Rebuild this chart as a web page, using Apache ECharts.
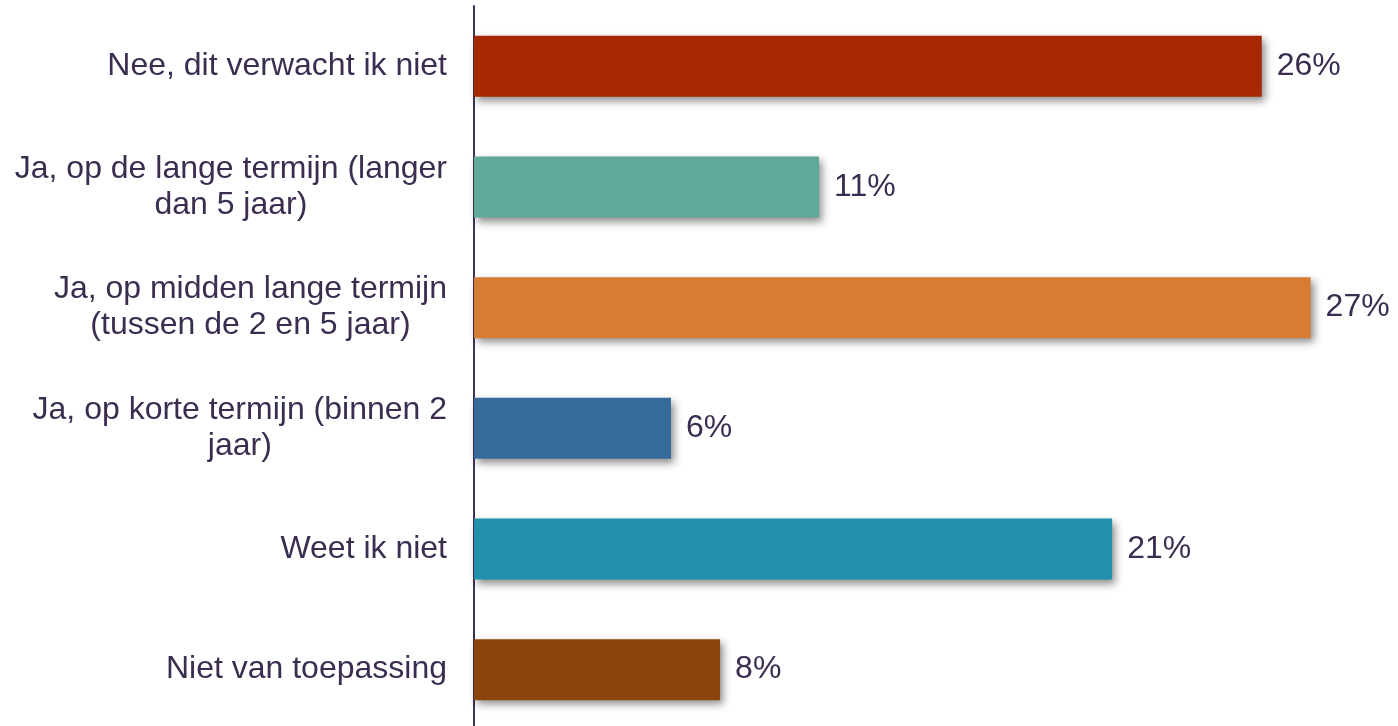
<!DOCTYPE html>
<html>
<head>
<meta charset="utf-8">
<script src="https://cdn.jsdelivr.net/npm/echarts@6/dist/echarts.min.js"></script>
<style>
  html, body { margin: 0; padding: 0; background: #fff; }
  #chart { width: 1398px; height: 726px; }
</style>
</head>
<body>
<div id="chart"></div>
<script>
// antwoorden, van boven naar beneden
const categories = [
  'Nee, dit verwacht ik niet',
  'Ja, op de lange termijn (langer\ndan 5 jaar)',
  'Ja, op midden lange termijn\n(tussen de 2 en 5 jaar)',
  'Ja, op korte termijn (binnen 2\njaar)',
  'Weet ik niet',
  'Niet van toepassing'
];
const values = [25.8, 11.3, 27.4, 6.45, 20.9, 8.06];
const barColors = ['#a52800', '#60a899', '#d77c35', '#356a9b', '#2190ad', '#8b440a'];

const textColor = '#3b2d50';
const fontFamily = 'Liberation Sans, Arial, sans-serif';

const chart = echarts.init(document.getElementById('chart'));

const option = {
  animation: false,
  grid: { left: 474, top: 6, right: 8, height: 724, outerBoundsMode: 'none' },
  xAxis: {
    type: 'value',
    min: 0,
    max: 30,
    show: false
  },
  yAxis: {
    type: 'category',
    inverse: true,
    data: categories,
    axisTick: { show: false },
    axisLine: { lineStyle: { color: '#3f3356', width: 2 } },
    axisLabel: {
      margin: 27,
      fontFamily: fontFamily,
      fontSize: 32,
      color: textColor,
      lineHeight: 36,
      formatter: function (v) {
        return v.split('\n').map(l => '{c|' + l + '}').join('\n');
      },
      rich: {
        c: {
          align: 'center',
          fontFamily: fontFamily,
          fontSize: 32,
          lineHeight: 36,
          color: textColor
        }
      }
    }
  },
  series: [
    {
      type: 'bar',
      barWidth: 61,
      data: values.map((v, i) => ({
        value: v,
        itemStyle: { color: barColors[i] }
      })),
      itemStyle: {
        shadowColor: 'rgba(0, 0, 0, 0.45)',
        shadowBlur: 8,
        shadowOffsetX: 3,
        shadowOffsetY: 4
      },
      label: {
        show: true,
        position: 'right',
        distance: 15,
        fontFamily: fontFamily,
        fontSize: 32,
        color: textColor,
        formatter: p => Math.round(p.value) + '%'
      }
    }
  ]
};

chart.setOption(option);
</script>
</body>
</html>
